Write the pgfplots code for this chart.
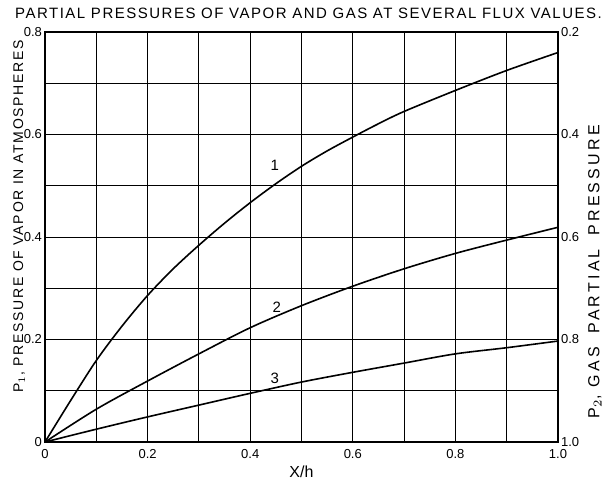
\documentclass[border=0pt]{standalone}
\usepackage{fontspec}
\setmainfont{Liberation Sans}
\usepackage{pgfplots}
\pgfplotsset{compat=1.18}
\begin{document}
\begin{tikzpicture}
\pgfplotsset{
  common/.style={
    scale only axis, width=256.5pt, height=205pt,
    xmin=0, xmax=1, ymin=0, ymax=0.8,
    at={(0,0)}, anchor=south west,
    /pgf/number format/assume math mode=true,
    tick style={draw=none},
    ticklabel style={font=\fontsize{6.5}{7}\selectfont},
    axis line style={line width=0.8pt},
  }
}
\begin{axis}[common,
  xtick={0,0.2,0.4,0.6,0.8,1.0},
  xticklabels={0,0.2,0.4,0.6,0.8,1.0},
  ytick={0,0.2,0.4,0.6,0.8},
  yticklabels={0,0.2,0.4,0.6,0.8},
  minor xtick={0.1,0.3,0.5,0.7,0.9},
  minor ytick={0.1,0.3,0.5,0.7},
  grid=both,
  major grid style={black, line width=0.5pt},
  minor grid style={black, line width=0.5pt},
  xticklabel style={yshift=0pt},
  yticklabel style={xshift=2pt},
  xlabel={X/h},
  xlabel style={font=\fontsize{8}{9}\selectfont, yshift=3pt},
  ylabel={P$_1$, PRESSURE OF VAPOR IN ATMOSPHERES},
  ylabel style={font=\fontsize{7}{8}\selectfont\addfontfeatures{LetterSpace=12}, at={(rel axis cs:-0.05,0.55)}, anchor=center},
  title={PARTIAL PRESSURES OF VAPOR AND GAS AT SEVERAL FLUX VALUES.},
  title style={font=\fontsize{7.5}{8}\selectfont\addfontfeatures{LetterSpace=10}, xshift=3.5pt, yshift=-3pt},
]
\addplot[black, line width=0.8pt, smooth] coordinates {
(0,0) (0.05,0.081) (0.1,0.159) (0.15,0.226) (0.2,0.286) (0.25,0.338) (0.3,0.384) (0.35,0.427) (0.4,0.467) (0.45,0.504) (0.5,0.538) (0.55,0.568) (0.6,0.595) (0.65,0.621) (0.7,0.645) (0.8,0.686) (0.9,0.725) (1.0,0.76)};
\addplot[black, line width=0.8pt, smooth] coordinates {
(0,0) (0.1,0.064) (0.2,0.119) (0.3,0.172) (0.4,0.223) (0.5,0.266) (0.6,0.304) (0.7,0.338) (0.8,0.368) (0.9,0.394) (1.0,0.419)};
\addplot[black, line width=0.8pt, smooth] coordinates {
(0,0) (0.1,0.025) (0.2,0.049) (0.3,0.072) (0.4,0.095) (0.5,0.117) (0.6,0.136) (0.7,0.154) (0.8,0.172) (0.9,0.184) (1.0,0.197)};
\node[font=\fontsize{7.5}{8}\selectfont] at (axis cs:0.448,0.539) {1};
\node[font=\fontsize{7.5}{8}\selectfont] at (axis cs:0.452,0.262) {2};
\node[font=\fontsize{7.5}{8}\selectfont] at (axis cs:0.448,0.125) {3};
\end{axis}
\begin{axis}[common,
  axis x line=none,
  axis y line*=right,
  ytick={0,0.2,0.4,0.6,0.8},
  yticklabels={1.0,0.8,0.6,0.4,0.2},
  yticklabel style={xshift=-2pt},
  ylabel={P$_2$, GAS\hspace{3pt} PARTIAL\hspace{3pt} PRESSURE},
  ylabel style={font=\fontsize{8}{9}\selectfont\addfontfeatures{LetterSpace=20}, at={(rel axis cs:1.072,0.415)}, anchor=center},
]
\end{axis}
\pgfresetboundingbox
\path (-22.5pt,-20pt) rectangle (281.5pt,221pt);
\end{tikzpicture}
\end{document}
